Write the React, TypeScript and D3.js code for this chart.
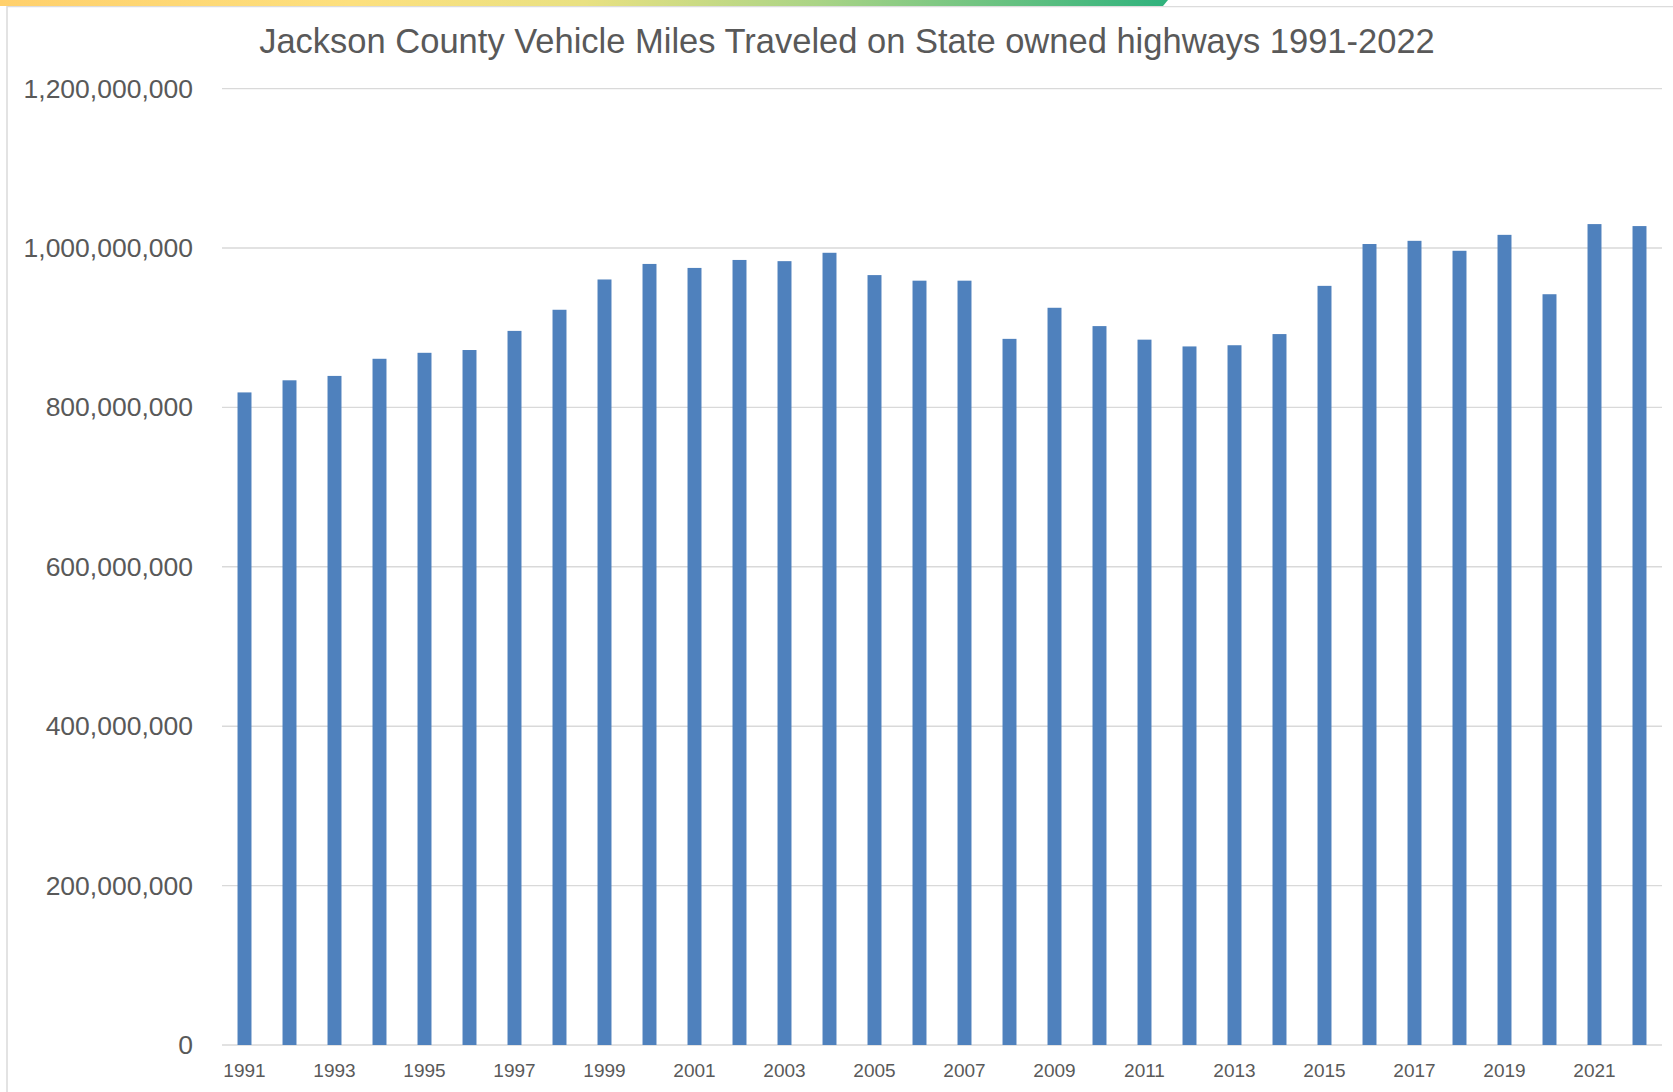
import React from "react";
import * as d3 from "d3";

const years: string[] = [
  "1991","1992","1993","1994","1995","1996","1997","1998","1999","2000",
  "2001","2002","2003","2004","2005","2006","2007","2008","2009","2010",
  "2011","2012","2013","2014","2015","2016","2017","2018","2019","2020",
  "2021","2022",
];

// Vehicle miles traveled, millions
const vmtMillions: number[] = [
  818.8, 834, 839.5, 861, 868.5, 872, 896, 922.5, 960.5, 980,
  975, 985, 983.5, 994, 966, 959, 959, 886, 925, 902,
  885, 876.5, 878, 892, 952.5, 1005, 1009, 996.5, 1016.5, 942,
  1030, 1027.5,
];

const yTicks: number[] = [0, 200000000, 400000000, 600000000, 800000000, 1000000000, 1200000000];

const title = "Jackson County Vehicle Miles Traveled on State owned highways 1991-2022";

const W = 1673;
const H = 1092;
const plot = { left: 222, right: 1662, top: 88.6, bottom: 1045 };

export default function App() {
  const x = d3
    .scaleBand<string>()
    .domain(years)
    .range([plot.left, plot.right])
    .paddingInner(0.69)
    .paddingOuter(0.345);
  const y = d3.scaleLinear().domain([0, 1200000000]).range([plot.bottom, plot.top]);
  const fmt = d3.format(",");
  const labelColor = "#595959";

  return (
    <svg
      width={W}
      height={H}
      style={{ position: "absolute", left: 0, top: 0, background: "#fff" }}
    >
      <defs>
        <linearGradient id="topbar" x1="0" x2="1" y1="0" y2="0">
          <stop offset="0" stopColor="#ffd06c" />
          <stop offset="0.3" stopColor="#fde07e" />
          <stop offset="0.5" stopColor="#e9e182" />
          <stop offset="0.7" stopColor="#aad486" />
          <stop offset="1" stopColor="#2fb27d" />
        </linearGradient>
      </defs>
      <rect x={0} y={0} width={W} height={H} fill="#fff" />
      {/* top decorative bar */}
      <path d="M0,0 L1168,0 L1163,6 L0,6 Z" fill="url(#topbar)" />
      <line x1={7} x2={W} y1={6.6} y2={6.6} stroke="#dcdcdc" strokeWidth={1.4} />
      <line x1={7} x2={7} y1={6} y2={H} stroke="#dcdcdc" strokeWidth={1.6} />

      <text
        x={847}
        y={41}
        textAnchor="middle"
        dominantBaseline="central"
        fontFamily="'Liberation Sans', Arial, sans-serif"
        fontSize={34.5}
        fill={labelColor}
      >
        {title}
      </text>

      {yTicks.map((t) => (
        <g key={t}>
          <line
            x1={plot.left}
            x2={plot.right}
            y1={y(t)}
            y2={y(t)}
            stroke="#d9d9d9"
            strokeWidth={1.4}
          />
          <text
            x={193}
            y={y(t)}
            textAnchor="end"
            dominantBaseline="central"
            fontFamily="'Liberation Sans', Arial, sans-serif"
            fontSize={26.5}
            fill={labelColor}
          >
            {fmt(t)}
          </text>
        </g>
      ))}

      {years.map((yr, i) => (
        <rect
          key={yr}
          x={x(yr)}
          y={y(vmtMillions[i] * 1e6)}
          width={x.bandwidth()}
          height={y(0) - y(vmtMillions[i] * 1e6)}
          fill="#4f81bd"
        />
      ))}

      {years.map((yr, i) =>
        i % 2 === 0 ? (
          <text
            key={yr}
            x={(x(yr) as number) + x.bandwidth() / 2}
            y={1070}
            textAnchor="middle"
            dominantBaseline="central"
            fontFamily="'Liberation Sans', Arial, sans-serif"
            fontSize={19}
            fill={labelColor}
          >
            {yr}
          </text>
        ) : null
      )}
    </svg>
  );
}
